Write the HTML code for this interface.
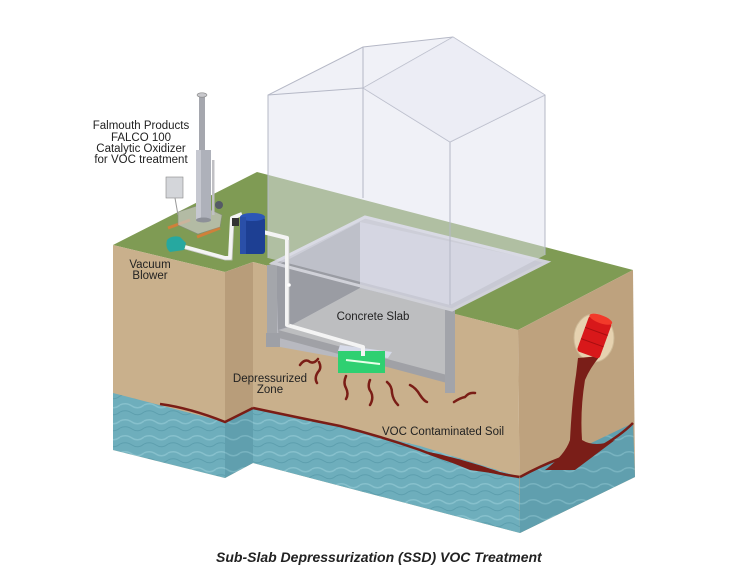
<!DOCTYPE html>
<html><head><meta charset="utf-8"><style>
html,body{margin:0;padding:0;background:#fff;}
svg{display:block;}
text{font-family:"Liberation Sans",sans-serif;fill:#222;}
</style></head><body>
<svg width="750" height="580" viewBox="0 0 750 580" xmlns="http://www.w3.org/2000/svg">
<defs>
<pattern id="water" width="24" height="16" patternUnits="userSpaceOnUse">
<rect width="24" height="16" fill="#6eaebc"/>
<path d="M0 5 Q6 2 12 6 T24 5" stroke="#86c0cc" stroke-width="1.5" fill="none"/>
<path d="M0 12 Q6 9 12 13 T24 12" stroke="#5d9fae" stroke-width="1" fill="none"/>
</pattern>
<pattern id="water2" width="24" height="16" patternUnits="userSpaceOnUse">
<rect width="24" height="16" fill="#609fae"/>
<path d="M0 5 Q6 2 12 6 T24 5" stroke="#78b3c0" stroke-width="1.5" fill="none"/>
</pattern>
</defs>

<polygon points="113,245 257,172 633,270 518,330 447,312 253,262 225,272" fill="#7f9b54"/>

<polygon points="113,245 225,272 225,478 113,450" fill="#c9b08c"/>
<polygon points="225,272 253,262 253,463 225,478" fill="#b89d7a"/>
<polygon points="113,393 225,422 225,478 113,450" fill="url(#water)"/>
<polygon points="225,422 253,408 253,463 225,478" fill="url(#water2)"/>
<path d="M160,404 Q190,408 225,422 L253,408" stroke="#7a1d16" stroke-width="2.5" fill="none"/>

<polygon points="253,262 518,330 520,533 253,463" fill="#c9b08c"/>
<polygon points="253,408 330,424 420,446 520,477 520,533 253,463" fill="url(#water)"/>
<path d="M253,408 Q300,418 340,426 Q380,436 420,450 Q470,470 520,477" stroke="#7a1d16" stroke-width="2.5" fill="none"/>
<path d="M420,450 Q460,458 500,472 L520,477 L470,470 Z" fill="#7a1d16"/>

<polygon points="518,330 633,270 635,477 520,533" fill="#bea27e"/>
<polygon points="520,477 633,423 635,477 520,533" fill="url(#water2)"/>
<path d="M520,477 Q560,455 600,447 Q620,436 633,423" stroke="#7a1d16" stroke-width="2.5" fill="none"/>

<ellipse cx="594" cy="338" rx="20" ry="24" fill="#e6d2b0" stroke="#cdb996"/>
<path d="M578,358 L600,356 Q590,368 585,380 Q580,410 582,440 Q595,448 615,440 L575,470 L545,470 Q565,455 570,440 Q572,400 576,375 Z" fill="#7a1e18"/>
<g transform="rotate(20 594 338)">
<rect x="582" y="318" width="24" height="38" rx="3" fill="#d8181a"/>
<ellipse cx="594" cy="318" rx="12" ry="4" fill="#f23a2a"/>
<line x1="582" y1="331" x2="606" y2="331" stroke="#a80e10"/>
<line x1="582" y1="343" x2="606" y2="343" stroke="#a80e10"/>
</g>

<polygon points="267,266 273,263 365,217 547,262 452,310 455,393 445,393 445,377 280,347 267,347" fill="#b8b9c0"/>
<polygon points="276,266 360,222 360,288 288,327 278,330" fill="#9a9ca3"/>
<polygon points="360,222 545,262 452,310 360,288" fill="#c8c9d4"/>
<polygon points="288,327 360,288 452,310 447,375 278,332" fill="#bdbec0"/>
<polygon points="278,330 447,375 447,383 279,338" fill="#a0a1a6"/>
<rect x="267" y="265" width="10" height="70" fill="#a4a6ab"/>
<rect x="266" y="333" width="14" height="14" fill="#9ea0a6"/>
<rect x="445" y="310" width="10" height="83" fill="#a2a4aa"/>
<polygon points="273,263 365,217 547,262 452,310" fill="none" stroke="#d0d1d8" stroke-width="3"/>

<!-- house -->
<polygon points="268,95 363,47 453,37 545,95 545,255 450,305 268,258" fill="#e2e4f0" fill-opacity="0.5"/>
<g stroke="#b5b8c6" stroke-width="1" fill="none">
<polyline points="268,258 268,95 363,47 453,37 545,95 545,255"/>
<polyline points="268,95 363,88 450,142 545,95"/>
<line x1="363" y1="47" x2="363" y2="198"/>
<line x1="363" y1="88" x2="453" y2="37"/>
<line x1="450" y1="142" x2="450" y2="305"/>
</g>
<polygon points="363,88 450,142 545,95 453,37" fill="#e8eaf3" opacity="0.5"/>

<polygon points="340,345 392,352 388,358 338,351" fill="#d6dae8"/>
<rect x="338" y="351" width="47" height="22" fill="#2fd071"/>
<line x1="346" y1="360" x2="380" y2="364" stroke="#e8ffe8" stroke-width="2"/>

<g stroke="#f4f4f4" stroke-width="4" fill="none" stroke-linejoin="round">
<polyline points="185,247 225,258 230,258 232,218 242,214"/>
<polyline points="255,230 287,238 287,325 363,347 363,356"/>
</g>
<g stroke="#c8c8c8" stroke-width="0.8" fill="none">
<polyline points="185,249 225,260 232,260 234,220"/>
<polyline points="289,240 289,325"/>
</g>
<circle cx="289" cy="285" r="1.8" fill="#fff"/>

<line x1="168" y1="228" x2="190" y2="220" stroke="#d0803a" stroke-width="3"/>
<line x1="197" y1="237" x2="220" y2="228" stroke="#d0803a" stroke-width="3"/>
<polygon points="178,212 200,205 222,215 220,227 198,234 178,225" fill="#c9c9c6" opacity="0.7" stroke="#888" stroke-width="0.6"/>
<rect x="166" y="177" width="17" height="21" fill="#d4d6da" stroke="#888" stroke-width="0.6"/>
<line x1="175" y1="198" x2="178" y2="215" stroke="#999"/>
<rect x="199" y="96" width="6" height="56" fill="#a5a7ae"/>
<ellipse cx="202" cy="95" rx="5" ry="2.2" fill="#c8c8cc" stroke="#888" stroke-width="0.6"/>
<rect x="196" y="150" width="15" height="70" fill="#aeb1ba"/>
<rect x="196" y="150" width="5" height="70" fill="#c6c8d0"/>
<ellipse cx="203.5" cy="220" rx="7.5" ry="2.5" fill="#8d9098"/>
<rect x="212" y="160" width="2.5" height="55" fill="#c0c0c4"/>
<circle cx="219" cy="205" r="4" fill="#555a66"/>
<path d="M167,240 Q172,235 180,237 L186,243 L184,250 L170,252 Q165,248 167,240 Z" fill="#26a8a0"/>
<rect x="240" y="217" width="25" height="37" rx="3" fill="#1d3f93"/>
<ellipse cx="252.5" cy="217" rx="12.5" ry="4" fill="#2c56b8"/>
<rect x="240" y="217" width="6" height="37" fill="#2a4fa8"/>
<rect x="232" y="218" width="7" height="8" fill="#333"/>

<g stroke="#7a1d16" stroke-width="2.5" fill="none" stroke-linecap="round">
<path d="M300,365 Q305,358 310,362 Q314,364 318,359"/>
<path d="M319,362 Q322,368 318,372 Q314,378 317,383"/>
<path d="M346,376 Q343,383 346,388 Q349,394 346,399"/>
<path d="M370,380 Q367,387 371,392 Q374,398 370,405"/>
<path d="M387,382 Q392,386 392,393 Q393,400 398,405"/>
<path d="M410,385 Q416,388 420,395 Q424,401 427,402"/>
<path d="M454,402 Q460,398 465,397 Q469,392 475,393"/>
</g>

<g font-size="11.5" text-anchor="middle">
<text x="141" y="129">Falmouth Products</text>
<text x="141" y="141">FALCO 100</text>
<text x="141" y="152">Catalytic Oxidizer</text>
<text x="141" y="163">for VOC treatment</text>
<text x="150" y="268">Vacuum</text>
<text x="150" y="279">Blower</text>
<text x="270" y="382">Depressurized</text>
<text x="270" y="393">Zone</text>
<text x="373" y="320">Concrete Slab</text>
</g>
<text x="382" y="435" font-size="11.5">VOC Contaminated Soil</text>
<text x="216" y="562" font-size="14" font-weight="bold" font-style="italic">Sub-Slab Depressurization (SSD) VOC Treatment</text>
</svg>
</body></html>
